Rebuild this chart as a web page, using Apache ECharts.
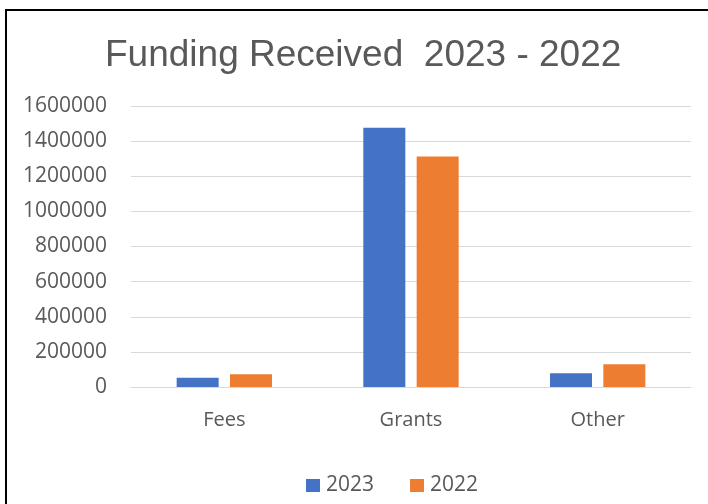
<!DOCTYPE html>
<html>
<head>
<meta charset="utf-8">
<script src="https://cdn.jsdelivr.net/npm/echarts@6/dist/echarts.min.js"></script>
<style>
html,body{margin:0;padding:0;background:#fff;width:708px;height:504px;overflow:hidden;}
#frame{position:absolute;left:5px;top:9px;width:720px;height:520px;border:2px solid #000;box-sizing:border-box;}
#main{position:absolute;left:0;top:0;width:708px;height:504px;}
</style>
</head>
<body>
<div id="frame"></div>
<div id="main"></div>
<script>
const categories = ['Fees', 'Grants', 'Other'];
const values2023 = [53000, 1476000, 78000];
const values2022 = [72000, 1312000, 129000];
const seriesNames = ['2023', '2022'];
const titleText = 'Funding Received  2023 - 2022';

const chart = echarts.init(document.getElementById('main'), null, {renderer: 'canvas'});
const font = '"Open Sans", "Noto Sans", sans-serif';
chart.setOption({
  animation: false,
  backgroundColor: 'transparent',
  title: {
    text: titleText,
    left: 100,
    top: 32,
    textStyle: {fontFamily: '"Liberation Sans", Arial, sans-serif', fontSize: 37, fontWeight: 'normal', color: '#595959'}
  },
  legend: {
    top: 470,
    left: 301,
    itemWidth: 14,
    itemHeight: 13,
    itemGap: 36,
    icon: 'rect',
    textStyle: {fontFamily: font, fontSize: 21, color: '#595959', padding: [0,0,0,1]},
    data: seriesNames
  },
  grid: {left: 131, right: 17, top: 106, bottom: 117, containLabel: false},
  xAxis: {
    type: 'category',
    data: categories,
    axisLine: {show: true, lineStyle: {color: '#D9D9D9', width: 1}},
    axisTick: {show: false},
    axisLabel: {fontFamily: font, fontSize: 20, color: '#595959', margin: 23}
  },
  yAxis: {
    type: 'value',
    min: 0,
    max: 1600000,
    interval: 200000,
    axisLine: {show: false},
    axisTick: {show: false},
    splitLine: {lineStyle: {color: '#D9D9D9', width: 1}},
    axisLabel: {fontFamily: font, fontSize: 21, color: '#595959', margin: 24, formatter: function (v) { return String(v); }}
  },
  series: [
    {name: seriesNames[0], type: 'bar', data: values2023, barWidth: 42, barGap: '27%', itemStyle: {color: '#4472C4'}},
    {name: seriesNames[1], type: 'bar', data: values2022, barWidth: 42, barGap: '27%', itemStyle: {color: '#ED7D31'}}
  ]
});
</script>
</body>
</html>
